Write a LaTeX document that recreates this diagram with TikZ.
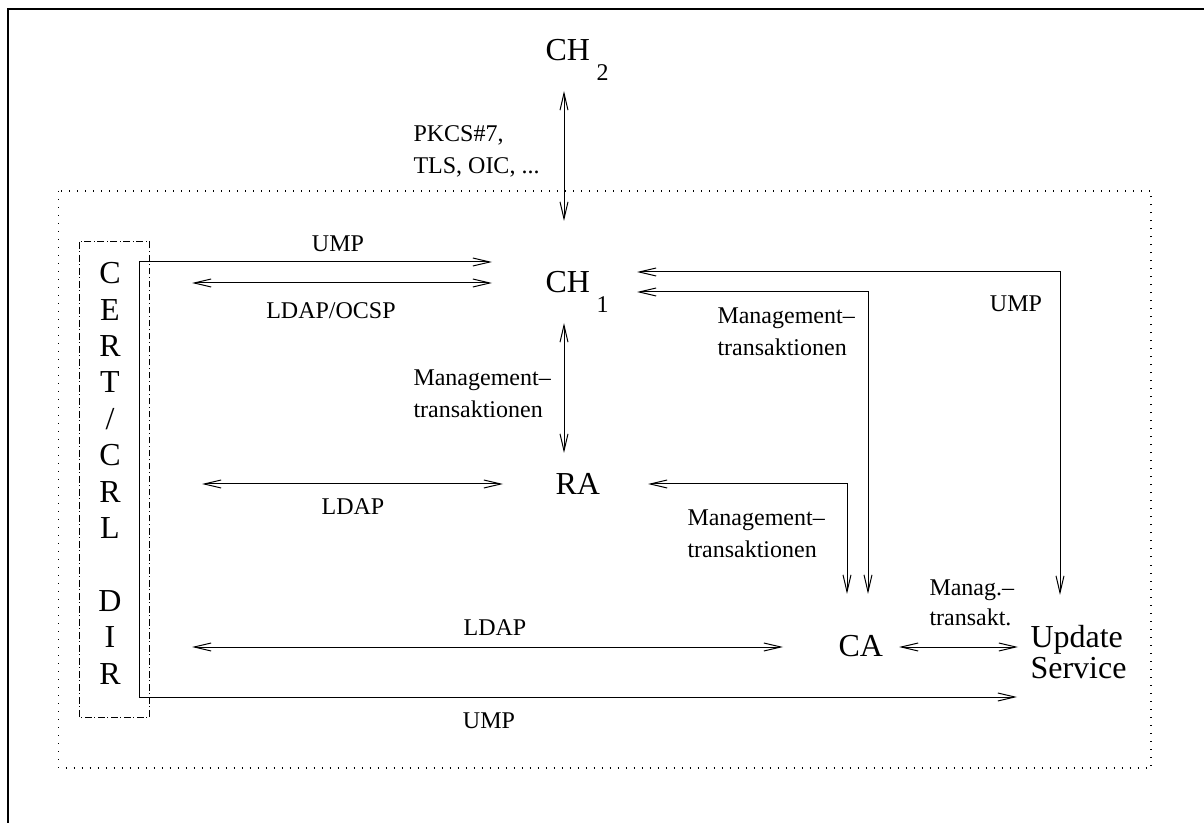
\documentclass[tikz,border=0pt]{standalone}
\usepackage{fontspec}
\setmainfont{Liberation Serif}
\usetikzlibrary{arrows.meta}

\newcommand\bigfnt{\fontsize{24pt}{23.3pt}\selectfont}
\newcommand\smallfnt{\fontsize{18pt}{24pt}\selectfont}
\newcommand\subidx[1]{\hspace{5pt}\raisebox{-14.5pt}{\smallfnt #1}}

\tikzset{every picture/.style={line width=0.75pt}}
\tikzset{
  entity/.style={font=\bigfnt, inner sep=0pt},
  lbl/.style={font=\smallfnt, inner sep=0pt},
  link/.style={{Straight Barb[length=12.75pt,width=6pt]}-{Straight Barb[length=12.75pt,width=6pt]}},
  dotbox/.style={dash pattern=on 0.75pt off 5.25pt, line width=0.9pt},
  dirbox/.style={dash pattern=on 5pt off 2pt on 0.75pt off 2pt},
}

\begin{document}
\begin{tikzpicture}[x=0.75pt,y=0.75pt,yscale=-1,xscale=1]
\useasboundingbox (0,0) rectangle (1204,823);

%Frame
\draw [line width=1pt] (8,823) -- (8,9) -- (1204,9) ;
%Shape: Rectangle (dotted domain)
\draw [dotbox] (58.5,191) rectangle (1151,768) ;
%Shape: Rectangle (directory)
\draw [dirbox] (79,242) rectangle (149.5,717) ;

% Entity Nodes
\node [entity, anchor=base west] (ch2) at (545,61) {CH\subidx{2}};
\node [entity, anchor=base west] (ch1) at (545,293) {CH\subidx{1}};
\node [entity, anchor=base west] (ra) at (555,495) {RA};
\node [entity, anchor=base west] (ca) at (838,657) {CA};
\node [entity, anchor=north west, align=left] (us) at (1030,625) {Update\\Service};
\node [entity, anchor=north, align=center, font=\fontsize{24pt}{27.3pt}\selectfont] (dir) at (110,262)
  {C\\E\\R\\T\\/\\C\\R\\L\\~\\D\\I\\R};

% Connector ends
\coordinate (ch2S) at (564,91);
\coordinate (ch1N) at (564,221);
\coordinate (ch1S) at (564,323);
\coordinate (raN) at (564,453);
\coordinate (ch1UmpL) at (492,262);
\coordinate (dirCorner) at (139,262);
\coordinate (usUmpB) at (1017,697);
\coordinate (dirLdapA) at (192,283);
\coordinate (ch1LdapL) at (492,283);
\coordinate (dirLdapB) at (202,484);
\coordinate (raL) at (503,484);
\coordinate (dirLdapC) at (192,647);
\coordinate (caL) at (783,647);
\coordinate (caR) at (899,647);
\coordinate (usL) at (1018,647);
\coordinate (ch1UmpR) at (637,272);
\coordinate (usN) at (1060,595);
\coordinate (ch1MgmtR) at (637,292);
\coordinate (caN2) at (868,594);
\coordinate (raR) at (648,484);
\coordinate (caN1) at (847,594);

%Straight Lines
\draw [link] (ch2S) -- (ch1N) ;
\draw [link] (ch1S) -- (raN) ;
\draw [link] (ch1UmpL) -- (dirCorner) |- (usUmpB) ;
\draw [link] (dirLdapA) -- (ch1LdapL) ;
\draw [link] (dirLdapB) -- (raL) ;
\draw [link] (dirLdapC) -- (caL) ;
\draw [link] (caR) -- (usL) ;
\draw [link] (ch1UmpR) -| (usN) ;
\draw [link] (ch1MgmtR) -| (caN2) ;
\draw [link] (raR) -| (caN1) ;

% Text Node
\node [lbl, anchor=north west, align=left] (pkcs) at (413,125) {PKCS\#7,\\TLS, OIC, ...};
% Text Node
\node [lbl, anchor=base] (umpTop) at (338,252) {UMP};
% Text Node
\node [lbl, anchor=base] (ldapOcsp) at (331,319) {LDAP/OCSP};
% Text Node
\node [lbl, anchor=north west, align=left] (mgmtCh1Ra) at (413,369) {Management--\\transaktionen};
% Text Node
\node [lbl, anchor=north west, align=left] (mgmtCh1Ca) at (717,307) {Management--\\transaktionen};
% Text Node
\node [lbl, anchor=base] (umpRight) at (1016,312) {UMP};
% Text Node
\node [lbl, anchor=base] (ldapRa) at (353,515) {LDAP};
% Text Node
\node [lbl, anchor=north west, align=left] (mgmtRaCa) at (687,509) {Management--\\transaktionen};
% Text Node
\node [lbl, anchor=north west, align=left, font=\fontsize{18pt}{22.5pt}\selectfont] (mgmtCaUs) at (929,579) {Manag.--\\transakt.};
% Text Node
\node [lbl, anchor=base] (ldapCa) at (495,635) {LDAP};
% Text Node
\node [lbl, anchor=base] (umpBottom) at (489,728) {UMP};

\end{tikzpicture}
\end{document}
